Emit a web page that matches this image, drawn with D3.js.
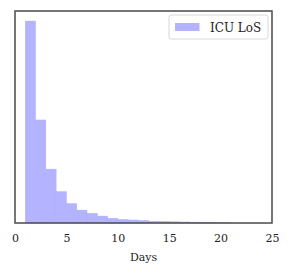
<!DOCTYPE html>
<html>
<head>
<meta charset="utf-8">
<script src="https://cdn.jsdelivr.net/npm/d3@7"></script>
<style>
  body { margin: 0; background: #fff; }
  text { font-family: "DejaVu Serif", serif; }
</style>
</head>
<body>
<div id="chart"></div>
<script>
// histogram of ICU length of stay, bins of 1 day
const binStarts = [1, 2, 3, 4, 5, 6, 7, 8, 9, 10, 11, 12, 13, 14, 15, 16, 17, 18, 19, 20];
const density = [0.439, 0.224, 0.117, 0.068, 0.042, 0.028, 0.021, 0.015, 0.010, 0.0076,
  0.0065, 0.0054, 0.0039, 0.0033, 0.0026, 0.0022, 0.0017, 0.0011, 0.0007, 0.0004];
const xTicks = [0, 5, 10, 15, 20, 25];
const seriesName = "ICU LoS";

const W = 292, H = 276;
const margin = { top: 11, right: 20, bottom: 53, left: 15 };
const width = W - margin.left - margin.right;
const height = H - margin.top - margin.bottom;

const svg = d3.select("#chart")
  .append("svg")
  .attr("width", W)
  .attr("height", H)
  .append("g")
  .attr("transform", `translate(${margin.left}, ${margin.top})`);

const x = d3.scaleLinear().domain([0, 25]).range([0, width]);
const y = d3.scaleLinear().domain([0, d3.max(density) * 1.05]).range([height, 0]);

// bars
svg.append("g")
  .selectAll("rect")
  .data(binStarts)
  .join("rect")
  .attr("x", d => x(d))
  .attr("width", d => x(d + 1) - x(d))
  .attr("y", (d, i) => y(density[i]))
  .attr("height", (d, i) => y(0) - y(density[i]))
  .attr("fill", "#b3b3ff")
  .attr("stroke", "#aeaef8")
  .attr("stroke-width", 0.5);

// x axis, labels only
const xAxis = svg.append("g")
  .attr("transform", `translate(0, ${height})`)
  .call(d3.axisBottom(x).tickValues(xTicks).tickSize(0).tickPadding(11));
xAxis.select(".domain").remove();
xAxis.selectAll("text")
  .style("font-family", "DejaVu Serif, serif")
  .style("font-size", "11px")
  .attr("fill", "#222");

// frame
svg.append("rect")
  .attr("x", 0).attr("y", 0)
  .attr("width", width).attr("height", height)
  .attr("fill", "none")
  .attr("stroke", "#4a4a4a")
  .attr("stroke-width", 1.5);

svg.append("text")
  .attr("x", width / 2)
  .attr("y", height + 38)
  .attr("text-anchor", "middle")
  .style("font-size", "11px")
  .attr("fill", "#222")
  .text("Days");

// legend
const legend = svg.append("g").attr("transform", `translate(${width - 103}, 4)`);
legend.append("rect")
  .attr("width", 99).attr("height", 24)
  .attr("rx", 2.5)
  .attr("fill", "#fff")
  .attr("stroke", "#d8d8d8")
  .attr("stroke-width", 1);
legend.append("rect")
  .attr("x", 6).attr("y", 8)
  .attr("width", 24.5).attr("height", 8)
  .attr("fill", "#b3b3ff");
legend.append("text")
  .attr("x", 41).attr("y", 16.5)
  .style("font-size", "12px")
  .attr("fill", "#222")
  .text(seriesName);
</script>
</body>
</html>
